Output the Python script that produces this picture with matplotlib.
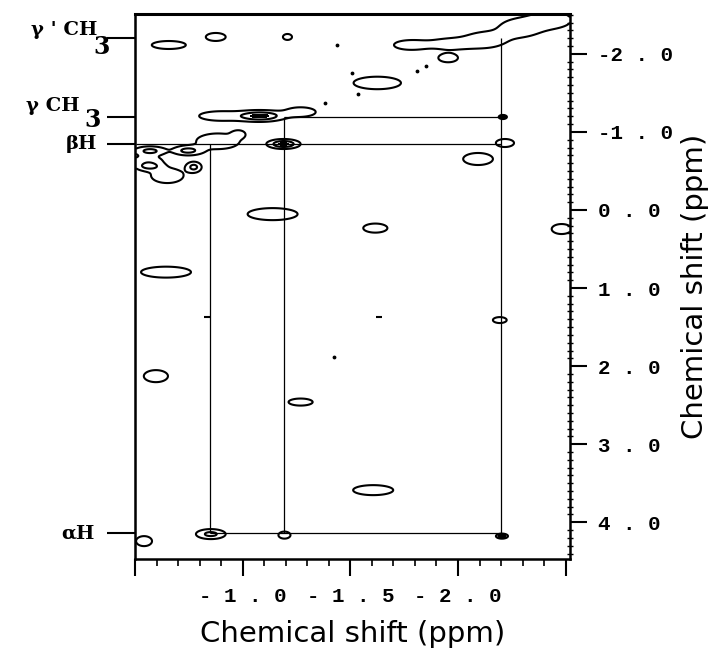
import numpy as np
import matplotlib.pyplot as plt
from matplotlib.ticker import MultipleLocator, FuncFormatter

# assigned resonances (ppm)
names = ["γ ' CH", "γ CH", "βH", "αH"]
subs = ["3", "3", "", ""]
shifts = [-2.20, -1.19, -0.85, 4.14]

# contour peaks: centre (F2, F1), contour half-widths, amplitude
peak_x = [-0.657, -0.875, -1.208, -1.625,
          -1.778, -1.963, -1.954, -2.125, -2.287, -2.435,
          -0.898, -1.083, -1.269,
          -0.885, -0.570, -0.745, -0.556, -0.565, -0.650, -0.773, -0.981,
          -1.190, -2.218, -2.208, -2.093, -2.481, -1.139, -1.616,
          -1.269, -0.644, -0.597, -2.194, -1.606,
          -0.852, -1.194, -2.204, -0.542]
peak_y = [-2.113, -2.216, -2.216, -1.627,
          -2.113, -2.126, -1.947, -2.177, -2.331, -2.434,
          -1.204, -1.204, -1.255,
          -0.880, -0.755, -0.760, -0.640, -0.562, -0.440, -0.550, -0.973,
          -0.845, -0.858, -1.191, -0.653, 0.244, 0.053, 0.232,
          2.460, 0.796, 2.128, 1.410, 3.588,
          4.151, 4.164, 4.177, 4.241]
peak_wx = [0.079, 0.046, 0.021, 0.110,
           0.075, 0.090, 0.045, 0.090, 0.090, 0.090,
           0.100, 0.120, 0.070,
           0.100, 0.075, 0.070, 0.060, 0.065, 0.075, 0.036, 0.025,
           0.079, 0.042, 0.019, 0.069, 0.046, 0.116, 0.056,
           0.056, 0.116, 0.056, 0.032, 0.093,
           0.069, 0.028, 0.028, 0.037]
peak_wy = [0.051, 0.051, 0.038, 0.080,
           0.060, 0.065, 0.055, 0.095, 0.110, 0.100,
           0.060, 0.075, 0.060,
           0.100, 0.060, 0.060, 0.045, 0.060, 0.095, 0.068, 0.040,
           0.064, 0.051, 0.026, 0.077, 0.064, 0.077, 0.058,
           0.045, 0.070, 0.077, 0.038, 0.064,
           0.064, 0.045, 0.032, 0.064]
peak_amp = [1, 1, 1, 1,
            1, 1, 1, 1, 1, 1,
            1, 3, 1,
            1, 2, 2, 1, 2, 1, 2, 1,
            3, 1, 3, 1, 1, 1, 1,
            1, 1, 1, 1, 1,
            2, 1, 3, 1]

# noise specks
dot_x = [-1.384, -1.509, -1.537, -1.440, -1.810, -1.852, -1.426]
dot_y = [-1.370, -1.754, -1.485, -2.113, -1.780, -1.844, 1.884]
dash_x = [-1.634, -0.833]
dash_y = [1.371, 1.371]

x_lim = (-0.505, -2.52)
y_lim = (4.47, -2.51)
level = 0.5

fig = plt.figure(figsize=(7.09, 6.53), dpi=100)
ax = fig.add_axes([135 / 709, 94 / 653, 435 / 709, 545 / 653])

X, Y = np.meshgrid(np.linspace(*x_lim, 700), np.linspace(y_lim[1], y_lim[0], 1000))
Z = np.zeros_like(X)
for x0, y0, wx, wy, a in zip(peak_x, peak_y, peak_wx, peak_wy, peak_amp):
    k = np.sqrt(2 * np.log(a / level))
    sx, sy = wx / k, wy / k
    Z += a * np.exp(-0.5 * (((X - x0) / sx) ** 2 + ((Y - y0) / sy) ** 2))

ax.contour(X, Y, Z, levels=[level, 1.6], colors="black", linewidths=1.5)
ax.contourf(X, Y, Z, levels=[2.6, Z.max() + 1], colors="black")
ax.plot(dot_x, dot_y, "k.", ms=3.5)
ax.plot(dash_x, dash_y, "k_", ms=5, mew=1.5)

# connectivity lines
g2, g1, b, a = shifts
ax.vlines([b, g1, g2], [b, g1, g2], a, color="black", lw=0.9)
ax.hlines([b, g1, a], [x_lim[0], g1, b], g2, color="black", lw=0.9)

ax.set_xlim(*x_lim)
ax.set_ylim(*y_lim)

def spaced_x(v, pos):
    if abs(v + 0.5) < 0.01 or abs(v + 2.5) < 0.01:
        return ""
    return f"{v:.1f}".replace("-", "- ").replace(".", " . ")

ax.set_xticks([-0.5, -1.0, -1.5, -2.0, -2.5])
ax.xaxis.set_major_formatter(FuncFormatter(spaced_x))
ax.xaxis.set_minor_locator(MultipleLocator(0.1))
ax.yaxis.tick_right()
ax.set_yticks(np.arange(-2, 5))
ax.yaxis.set_major_formatter(FuncFormatter(lambda v, p: f"{v:.1f}".replace(".", " . ")))
ax.yaxis.set_minor_locator(MultipleLocator(0.1))
ax.tick_params(which="major", direction="out", length=12, width=1.5, pad=8)
ax.tick_params(axis="y", which="minor", direction="inout", length=4, width=1)
ax.tick_params(axis="x", which="minor", direction="out", length=5, width=1.2)
for lab in ax.get_xticklabels() + ax.get_yticklabels():
    lab.set_family("Liberation Mono")
    lab.set_fontweight("bold")
    lab.set_fontsize(15)

for side in ax.spines:
    ax.spines[side].set_linewidth(1.8)
ax.spines["top"].set_linewidth(2.2)

left = ax.secondary_yaxis("left")
left.set_yticks(shifts)
left.set_yticklabels([])
left.tick_params(length=20, width=1.5)

trans = ax.get_yaxis_transform()
main_off = [(-27, 6), (-40, 8), (-27, 0), (-29, 0)]
sub_off = [(-18, -6), (-25, -2), None, None]
for name, sub, y, mo, so in zip(names, subs, shifts, main_off, sub_off):
    ax.annotate(name, xy=(0, y), xycoords=trans, xytext=mo, textcoords="offset points",
                ha="right", va="center", fontsize=14, fontweight="bold", family="DejaVu Serif")
    if sub:
        ax.annotate(sub, xy=(0, y), xycoords=trans, xytext=so, textcoords="offset points",
                    ha="right", va="center", fontsize=17, fontweight="bold", family="DejaVu Serif")

ax.set_xlabel("Chemical shift (ppm)", fontsize=21, labelpad=10)
ax.yaxis.set_label_position("right")
ax.set_ylabel("Chemical shift (ppm)", fontsize=21, labelpad=6)

fig.savefig("out.png", dpi=100)
